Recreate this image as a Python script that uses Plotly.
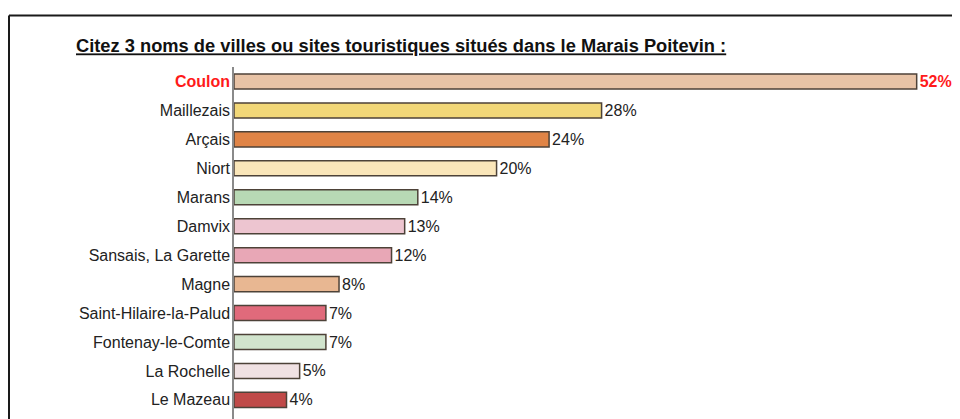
import plotly.graph_objects as go

categories = ["Coulon", "Maillezais", "Arçais", "Niort", "Marans", "Damvix",
              "Sansais, La Garette", "Magne", "Saint-Hilaire-la-Palud",
              "Fontenay-le-Comte", "La Rochelle", "Le Mazeau"]
values = [52, 28, 24, 20, 14, 13, 12, 8, 7, 7, 5, 4]
colors = ["#E8C3A6", "#F2D778", "#E08446", "#FAE6B9", "#B8D9B5", "#EDC5D0",
          "#E8A7B6", "#E8B792", "#E06A7B", "#D1E4CD", "#F0E1E3", "#C04A48"]
highlight = "Coulon"
title_text = "Citez 3 noms de villes ou sites touristiques situés dans le Marais Poitevin :"

RED = "#FF1A1A"
# the page body adds an 8px margin, so the figure is 8px smaller than the window
W, H = 952, 411
ML, MT, MR, MB = 226, 58.5, 0, 0

idx = list(range(len(categories)))
ticktext = [f"<b><span style='color:{RED}'>{c}</span></b>" if c == highlight else c for c in categories]
texts = [f"<b>{v}%</b>" if c == highlight else f"{v}%" for c, v in zip(categories, values)]
textcolors = [RED if c == highlight else "#222222" for c in categories]

FONT = "Arial, Liberation Sans, sans-serif"

fig = go.Figure(go.Bar(
    x=values, y=idx, orientation="h",
    marker=dict(color=colors, line=dict(color="#4d4238", width=1.5)),
    width=0.52,
    text=texts, textposition="outside", constraintext="none",
    textfont=dict(size=16, color=textcolors, family=FONT),
    outsidetextfont=dict(size=16, color=textcolors, family=FONT),
    cliponaxis=False, hoverinfo="skip",
))

fig.update_layout(
    width=W, height=H,
    margin=dict(l=ML, r=MR, t=MT, b=MB, pad=0),
    paper_bgcolor="white", plot_bgcolor="white",
    showlegend=False,
    font=dict(family=FONT, size=16, color="#222222"),
    title=dict(
        text=f"<b>{title_text}</b>",
        xref="container", yref="container",
        x=68 / W, xanchor="left",
        y=1 - 38 / H, yanchor="middle",
        font=dict(size=18.3, color="#111111", family=FONT,
                  lineposition="under"),
    ),
    xaxis=dict(range=[0, 55.3], visible=False, fixedrange=True),
    yaxis=dict(
        range=[11.66, -0.5],
        tickmode="array", tickvals=idx, ticktext=ticktext,
        showgrid=False, zeroline=False,
        showline=True, linecolor="#8a8a8a", linewidth=1.5,
        ticks="", ticklabelstandoff=-1,
        tickfont=dict(size=16, color="#222222"),
    ),
    bargap=0.48,
)

# frame border (top and left), expressed in paper coords
plot_w = W - ML - MR
plot_h = H - MT - MB
x_left = (1 - ML) / plot_w
y_top = (H - 7 - MB) / plot_h
fig.add_shape(type="line", xref="paper", yref="paper",
              x0=x_left, x1=(W + 20 - ML) / plot_w, y0=y_top, y1=y_top,
              line=dict(color="#1a1a1a", width=2))
fig.add_shape(type="line", xref="paper", yref="paper",
              x0=x_left, x1=x_left, y0=y_top, y1=-0.05,
              line=dict(color="#1a1a1a", width=2))

fig.write_html("out.html")
